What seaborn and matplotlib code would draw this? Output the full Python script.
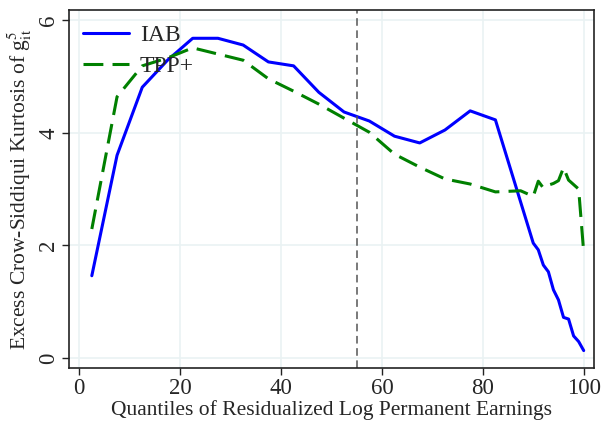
import numpy as np
import pandas as pd
import matplotlib
matplotlib.use("Agg")
import matplotlib.pyplot as plt
import seaborn as sns

# Quantile midpoints: 5-point bins up to 90, then percentiles in the top decile
iab_q = [2.5, 7.5, 12.5, 17.5, 22.5, 27.5, 32.5, 37.5, 42.5, 47.5, 52.5, 57.5,
         62.5, 67.5, 72.5, 77.5, 82.5, 87.5,
         90, 91, 92, 93, 94, 95, 96, 97, 98, 99, 100]
iab_k = [1.46, 3.60, 4.81, 5.29, 5.68, 5.68, 5.56, 5.26, 5.19, 4.72, 4.37, 4.21,
         3.94, 3.82, 4.05, 4.39, 4.23, 2.77,
         2.04, 1.92, 1.65, 1.53, 1.21, 1.03, 0.72, 0.69, 0.39, 0.29, 0.13]

tpp_q = [2.5, 7.5, 12.5, 17.5, 22.5, 27.5, 32.5, 37.5, 42.5, 47.5, 52.5, 57.5,
         62.5, 67.5, 72.5, 77.5, 82.5, 87.5,
         90, 91, 92, 93, 94, 95, 96, 97, 98, 99, 100]
tpp_k = [2.29, 4.64, 5.19, 5.33, 5.51, 5.40, 5.29, 4.96, 4.74, 4.51, 4.26, 4.01,
         3.62, 3.39, 3.18, 3.09, 2.95, 2.97,
         2.87, 3.14, 3.02, 3.07, 3.10, 3.15, 3.38, 3.16, 3.08, 3.00, 1.88]

series_names = ["IAB", "TPP+"]
cutoff = 55

df = pd.concat([
    pd.DataFrame({"q": iab_q, "k": iab_k, "src": series_names[0]}),
    pd.DataFrame({"q": tpp_q, "k": tpp_k, "src": series_names[1]}),
], ignore_index=True)

sns.set_theme(style="ticks")
plt.rcParams["font.family"] = ["Liberation Serif", "DejaVu Serif"]
plt.rcParams["mathtext.fontset"] = "stix"

fig = plt.figure(figsize=(6.01, 4.23), dpi=100)
ax = fig.add_axes([0.115, 0.130, 0.873, 0.846])

sns.lineplot(data=df, x="q", y="k", hue="src", style="src",
             palette={"IAB": "#0000ff", "TPP+": "#008000"},
             dashes={"IAB": "", "TPP+": (6.5, 3)},
             linewidth=2.2, ax=ax, sort=False)

ax.axvline(cutoff, color="#555555", linestyle=(0, (5, 3)), linewidth=1.1)

ax.set_xlim(-2, 102)
ax.set_ylim(-0.18, 6.18)
ax.set_xticks([0, 20, 40, 60, 80, 100])
ax.set_yticks([0, 2, 4, 6])
ax.grid(True, color="#eaf2f3", linewidth=1.2)
ax.set_axisbelow(True)
for s in ax.spines.values():
    s.set_color("#222222")
    s.set_linewidth(1.2)
ax.tick_params(axis="both", direction="out", length=5, width=1, color="#222222",
               labelsize=16.5, pad=2)
for lbl in ax.get_yticklabels():
    lbl.set_rotation(90)
    lbl.set_va("center")

ax.set_xlabel("Quantiles of Residualized Log Permanent Earnings", fontsize=15.5, labelpad=1)
ax.set_ylabel(r"Excess Crow-Siddiqui Kurtosis of g$^{5}_{\mathrm{it}}$", fontsize=15.5, labelpad=3)

ax.legend(loc="upper left", frameon=False, fontsize=17, handlelength=1.95,
          borderaxespad=0.3, labelspacing=0.4, handletextpad=0.45, title=None,
          borderpad=0.3)

fig.savefig("out.png", dpi=100)
